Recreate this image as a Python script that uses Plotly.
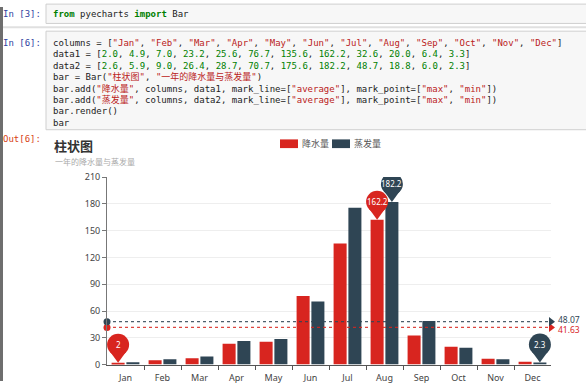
import math
from decimal import Decimal, ROUND_HALF_UP
import numpy as np
import plotly.graph_objects as go

# ---------------- data ----------------
columns = ["Jan", "Feb", "Mar", "Apr", "May", "Jun", "Jul", "Aug", "Sep", "Oct", "Nov", "Dec"]
data1 = [2.0, 4.9, 7.0, 23.2, 25.6, 76.7, 135.6, 162.2, 32.6, 20.0, 6.4, 3.3]
data2 = [2.6, 5.9, 9.0, 26.4, 28.7, 70.7, 175.6, 182.2, 48.7, 18.8, 6.0, 2.3]
series_names = ["降水量", "蒸发量"]
title_text = "柱状图"
subtitle_text = "一年的降水量与蒸发量"
y_ticks = [0, 30, 60, 90, 120, 150, 180, 210]

W, H = 586, 387
RED = "#d8251f"
DARK = "#2f4554"
colors = [RED, DARK]
offsets = [-0.2, 0.2]
label_shift = [-2, 2]


def px(x):
    return x / W


def py(y):
    return 1 - y / H


def to_fixed2(v):
    # JavaScript-like toFixed(2): exact binary value, round half up
    return str(Decimal(v).quantize(Decimal("0.01"), rounding=ROUND_HALF_UP))


fig = go.Figure()
x_idx = list(range(len(columns)))

for name, data, col in zip(series_names, [data1, data2], colors):
    fig.add_trace(go.Bar(x=x_idx, y=data, name=name, marker=dict(color=col, line=dict(width=0)),
                         showlegend=False, hoverinfo="y"))

shapes = []
annotations = []

# --- mark lines (average) ---
for data, col, ysh in zip([data1, data2], colors, label_shift):
    avg = math.fsum(data) / len(data)
    shapes.append(dict(type="line", xref="x", yref="y", x0=-0.5, x1=len(columns) - 0.5,
                       y0=avg, y1=avg, line=dict(color=col, width=1.2, dash="3px,3px"), layer="above",
                       opacity=0.85))
    fig.add_trace(go.Scatter(x=[-0.5], y=[avg], mode="markers", showlegend=False, cliponaxis=False,
                             marker=dict(symbol="circle", size=7, color=col), hoverinfo="skip"))
    fig.add_trace(go.Scatter(x=[len(columns) - 0.5], y=[avg], mode="markers", showlegend=False,
                             cliponaxis=False,
                             marker=dict(symbol="triangle-right", size=8, color=col), hoverinfo="skip"))
    label = to_fixed2(avg)
    annotations.append(dict(x=len(columns) - 0.5, y=avg, xref="x", yref="y", text=label,
                            showarrow=False, xanchor="left", xshift=5, yshift=ysh,
                            font=dict(family="Noto Sans, sans-serif", size=8.5, color=col)))

# --- mark points (max/min pins) ---
for data, col, off in zip([data1, data2], colors, offsets):
    for idx in [int(np.argmax(data)), int(np.argmin(data))]:
        xa = idx + off
        ya = data[idx]
        shapes.append(dict(type="circle", xref="x", yref="y", xsizemode="pixel", ysizemode="pixel",
                           xanchor=xa, yanchor=ya, x0=-11, x1=11, y0=7, y1=29,
                           fillcolor=col, line=dict(width=0), layer="above"))
        shapes.append(dict(type="path", xref="x", yref="y", xsizemode="pixel", ysizemode="pixel",
                           xanchor=xa, yanchor=ya, path="M-8,11 L8,11 L0,0 Z",
                           fillcolor=col, line=dict(width=0), layer="above"))
        annotations.append(dict(x=xa, y=ya, xref="x", yref="y", text=f"{ya:g}", showarrow=False,
                                yshift=18, font=dict(family="Noto Sans, sans-serif", size=8, color="white")))

# ---------------- notebook chrome ----------------
MONO = "DejaVu Sans Mono, Noto Sans CJK SC, monospace"
shapes.append(dict(type="rect", xref="paper", yref="paper", x0=0, x1=px(3), y0=0, y1=1,
                   fillcolor="#6e6e6e", line=dict(width=0), layer="below"))
shapes.append(dict(type="rect", xref="paper", yref="paper", x0=px(46), x1=px(590), y0=py(17), y1=py(-3),
                   fillcolor="#f7f7f7", line=dict(color="#cfcfcf", width=1), layer="below"))
shapes.append(dict(type="line", xref="paper", yref="paper", x0=px(3), x1=1, y0=py(21), y1=py(21),
                   line=dict(color="#e0e0e0", width=2), layer="below"))
shapes.append(dict(type="rect", xref="paper", yref="paper", x0=px(46), x1=px(590), y0=py(127), y1=py(25),
                   fillcolor="#f7f7f7", line=dict(color="#cfcfcf", width=1), layer="below"))


def S(s):
    return f'<span style="color:#BA2121">{s}</span>'


def N(s):
    return f'<span style="color:#008000">{s}</span>'


def K(s):
    return f'<span style="color:#008000"><b>{s}</b></span>'


code1 = [K("from") + " pyecharts " + K("import") + " Bar"]
code2 = [
    "columns = [" + ", ".join(S(f'"{m}"') for m in columns) + "]",
    "data1 = [" + ", ".join(N(f"{v:.1f}") for v in data1) + "]",
    "data2 = [" + ", ".join(N(f"{v:.1f}") for v in data2) + "]",
    "bar = Bar(" + S(f'"{title_text}"') + ", " + S(f'"{subtitle_text}"') + ")",
    "bar.add(" + S(f'"{series_names[0]}"') + ", columns, data1, mark_line=[" + S('"average"')
    + "], mark_point=[" + S('"max"') + ", " + S('"min"') + "])",
    "bar.add(" + S(f'"{series_names[1]}"') + ", columns, data2, mark_line=[" + S('"average"')
    + "], mark_point=[" + S('"max"') + ", " + S('"min"') + "])",
    "bar.render()",
    "bar",
]

annotations.append(dict(xref="paper", yref="paper", x=px(43), y=py(7), xanchor="right", yanchor="middle",
                        text="In [3]:", showarrow=False, font=dict(family=MONO, size=9, color="#303F9F")))
annotations.append(dict(xref="paper", yref="paper", x=px(43), y=py(37), xanchor="right", yanchor="middle",
                        text="In [6]:", showarrow=False, font=dict(family=MONO, size=9, color="#303F9F")))
annotations.append(dict(xref="paper", yref="paper", x=px(43), y=py(137), xanchor="right", yanchor="middle",
                        text="Out[6]:", showarrow=False, font=dict(family=MONO, size=9, color="#D84315")))
annotations.append(dict(xref="paper", yref="paper", x=px(51), y=py(7), xanchor="left", yanchor="middle",
                        text=code1[0], showarrow=False, font=dict(family=MONO, size=9, color="#222")))
for i, line in enumerate(code2):
    annotations.append(dict(xref="paper", yref="paper", x=px(51), y=py(37 + i * 11.8), xanchor="left",
                            yanchor="middle", text=line, showarrow=False,
                            font=dict(family=MONO, size=9, color="#222")))

# ---------------- chart title / legend ----------------
annotations.append(dict(xref="paper", yref="paper", x=px(52), y=py(143), xanchor="left", yanchor="middle",
                        text=f"<b>{title_text}</b>", showarrow=False,
                        font=dict(family="Noto Sans CJK SC, sans-serif", size=13, color="#333")))
annotations.append(dict(xref="paper", yref="paper", x=px(53), y=py(160), xanchor="left", yanchor="middle",
                        text=subtitle_text, showarrow=False,
                        font=dict(family="Noto Sans CJK SC, sans-serif", size=8, color="#aaa")))
leg_x = [280, 332]
for lx, name, col in zip(leg_x, series_names, colors):
    shapes.append(dict(type="rect", xref="paper", yref="paper", x0=px(lx), x1=px(lx + 18),
                       y0=py(146), y1=py(137), fillcolor=col, line=dict(width=0)))
    annotations.append(dict(xref="paper", yref="paper", x=px(lx + 20), y=py(141.5), xanchor="left",
                            yanchor="middle", text=name, showarrow=False,
                            font=dict(family="Noto Sans CJK SC, sans-serif", size=9, color="#555")))

fig.update_layout(
    width=W, height=H, margin=dict(l=0, r=0, t=0, b=0),
    paper_bgcolor="white", plot_bgcolor="white",
    barmode="group", bargap=0.2, bargroupgap=0.12,
    shapes=shapes, annotations=annotations, showlegend=False,
    font=dict(family="Noto Sans, sans-serif", size=9, color="#333"),
    xaxis=dict(domain=[px(107), px(551)], range=[-0.5, len(columns) - 0.5], tickvals=x_idx,
               ticktext=columns, ticks="", showgrid=False, zeroline=False, showline=True,
               linecolor="#555", linewidth=1, tickfont=dict(size=9, color="#444"),
               ticklabelstandoff=5,
               minor=dict(tickvals=[i + 0.5 for i in x_idx[:-1]], ticks="outside", ticklen=4,
                          tickcolor="#555", showgrid=False),
               fixedrange=True),
    yaxis=dict(domain=[py(370), py(176)], range=[0, 210], tickvals=y_ticks, ticks="outside",
               ticklen=4, tickcolor="#777", showline=True, linecolor="#777", linewidth=1,
               gridcolor="#eeeeee", zeroline=False, tickfont=dict(size=9, color="#444"),
               fixedrange=True),
)

fig.write_html("out.html")
